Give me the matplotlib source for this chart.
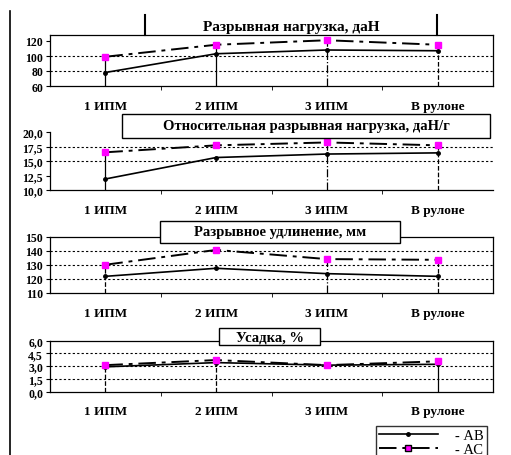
import matplotlib
matplotlib.use("Agg")
import matplotlib.pyplot as plt
from matplotlib.patches import Rectangle
from matplotlib.lines import Line2D

plt.rcParams["font.family"] = ["Liberation Serif", "DejaVu Serif"]

categories = ["1 ИПМ", "2 ИПМ", "3 ИПМ", "В рулоне"]

load_ab = [78, 103, 108, 107]
load_ac = [99, 115, 121, 115]

rel_load_ab = [11.9, 15.6, 16.2, 16.4]
rel_load_ac = [16.5, 17.7, 18.2, 17.7]

elong_ab = [121.8, 127.5, 123.7, 121.8]
elong_ac = [130, 140.5, 134, 133.5]

shrink_ab = [2.9, 3.4, 3.1, 3.2]
shrink_ac = [3.1, 3.7, 3.1, 3.55]

titles = [
    "Разрывная нагрузка, даН",
    "Относительная разрывная нагрузка, даН/г",
    "Разрывное удлинение, мм",
    "Усадка, %",
]

W, H = 511, 456


def fx(x):
    return x / W


def fy(y):
    return 1 - y / H


fig = plt.figure(figsize=(W / 100, H / 100), dpi=100)

# panel geometry in pixels: (top, bottom)
panels = [
    (36, 87, load_ab, load_ac, (60, 128), [60, 80, 100, 120], [80, 100], "{:.0f}",
     ["-", "-", "-.", "--"]),
    (133, 191, rel_load_ab, rel_load_ac, (10, 20), [10, 12.5, 15, 17.5, 20], [15, 17.5], "{:.1f}",
     ["-", None, "-.", "--"]),
    (237.5, 294, elong_ab, elong_ac, (110, 150), [110, 120, 130, 140, 150], [120, 130, 140], "{:.0f}",
     ["--", None, "-.", "--"]),
    (341.5, 392.5, shrink_ab, shrink_ac, (0, 6), [0, 1.5, 3, 4.5, 6], [1.5, 3, 4.5], "{:.1f}",
     ["--", "--", None, "-"]),
]

x = list(range(len(categories)))

for i, (top, bot, ab, ac, ylim, yticks, grid, fmt, drops) in enumerate(panels):
    ax = fig.add_axes([fx(50), fy(bot), fx(493) - fx(50), (bot - top) / H])
    ax.set_xlim(-0.5, 3.5)
    ax.set_ylim(*ylim)
    for g in grid:
        ax.axhline(g, color="black", linestyle=(0, (2, 2)), linewidth=0.8, zorder=1)
    for xi, a, c, ds in zip(x, ab, ac, drops):
        if ds is not None:
            ax.vlines(xi, ylim[0], max(a, c), color="black", linestyle=ds, linewidth=0.9, zorder=2)
    ax.plot(x, ab, color="black", linewidth=1.2, marker="o", markersize=2.5, zorder=3)
    ax.plot(x, ac, color="black", linewidth=1.4, dashes=(9, 3, 2, 3), marker="s",
            markersize=5, markerfacecolor="#ff00ff", markeredgecolor="#ff00ff", zorder=4)
    ax.set_yticks(yticks)
    ax.set_yticklabels([fmt.format(v).replace(".", ",") for v in yticks],
                       fontsize=8.5, fontweight="bold")
    ax.set_xticks(x)
    ax.set_xticklabels(categories, fontsize=9.5, fontweight="bold")
    ax.set_xticks([0.5, 1.5, 2.5], minor=True)
    ax.tick_params(axis="x", which="major", length=0, pad=10)
    ax.tick_params(axis="x", which="minor", length=3, direction="out")
    ax.tick_params(axis="y", length=3, direction="out", pad=2)
    for s in ax.spines.values():
        s.set_linewidth(0.9)
    if i == 1:
        ax.spines["top"].set_visible(False)
        ax.spines["right"].set_visible(False)

# title boxes
fig.add_artist(Line2D([fx(145), fx(145)], [fy(16), fy(36)], color="black", linewidth=1.5))
fig.add_artist(Line2D([fx(437), fx(437)], [fy(16), fy(36)], color="black", linewidth=1.5))
fig.text(fx(291), fy(27), titles[0], ha="center", va="center", fontsize=11, fontweight="bold")

boxes = [(122, 115, 490, 139), (160, 222, 400, 244), (219, 329, 320, 346)]
for (x0, y0, x1, y1), t in zip(boxes, titles[1:]):
    fig.add_artist(Rectangle((fx(x0), fy(y1)), fx(x1) - fx(x0), (y1 - y0) / H,
                             transform=fig.transFigure, facecolor="white",
                             edgecolor="black", linewidth=1.0, zorder=5))
    fig.text((fx(x0) + fx(x1)) / 2, fy((y0 + y1) / 2), t, ha="center", va="center",
             fontsize=10.5, fontweight="bold", zorder=6)

# left frame line
fig.add_artist(Line2D([fx(10), fx(10)], [fy(12), fy(456)], color="black", linewidth=1.2))

handles = [
    Line2D([], [], color="black", linewidth=1.2, marker="o", markersize=2.5),
    Line2D([], [], color="black", linewidth=1.4, dashes=(9, 3, 2, 3), marker="s", markersize=5,
           markerfacecolor="#ff00ff", markeredgecolor="black"),
]
fig.legend(handles, ["- АВ", "- АС"], loc="upper right", bbox_to_anchor=(fx(494), fy(420)),
           fontsize=10.5, frameon=True, fancybox=False, edgecolor="black", handlelength=4,
           borderpad=0.2, labelspacing=0.05, handletextpad=1.2)

fig.savefig("out.png", dpi=100)
